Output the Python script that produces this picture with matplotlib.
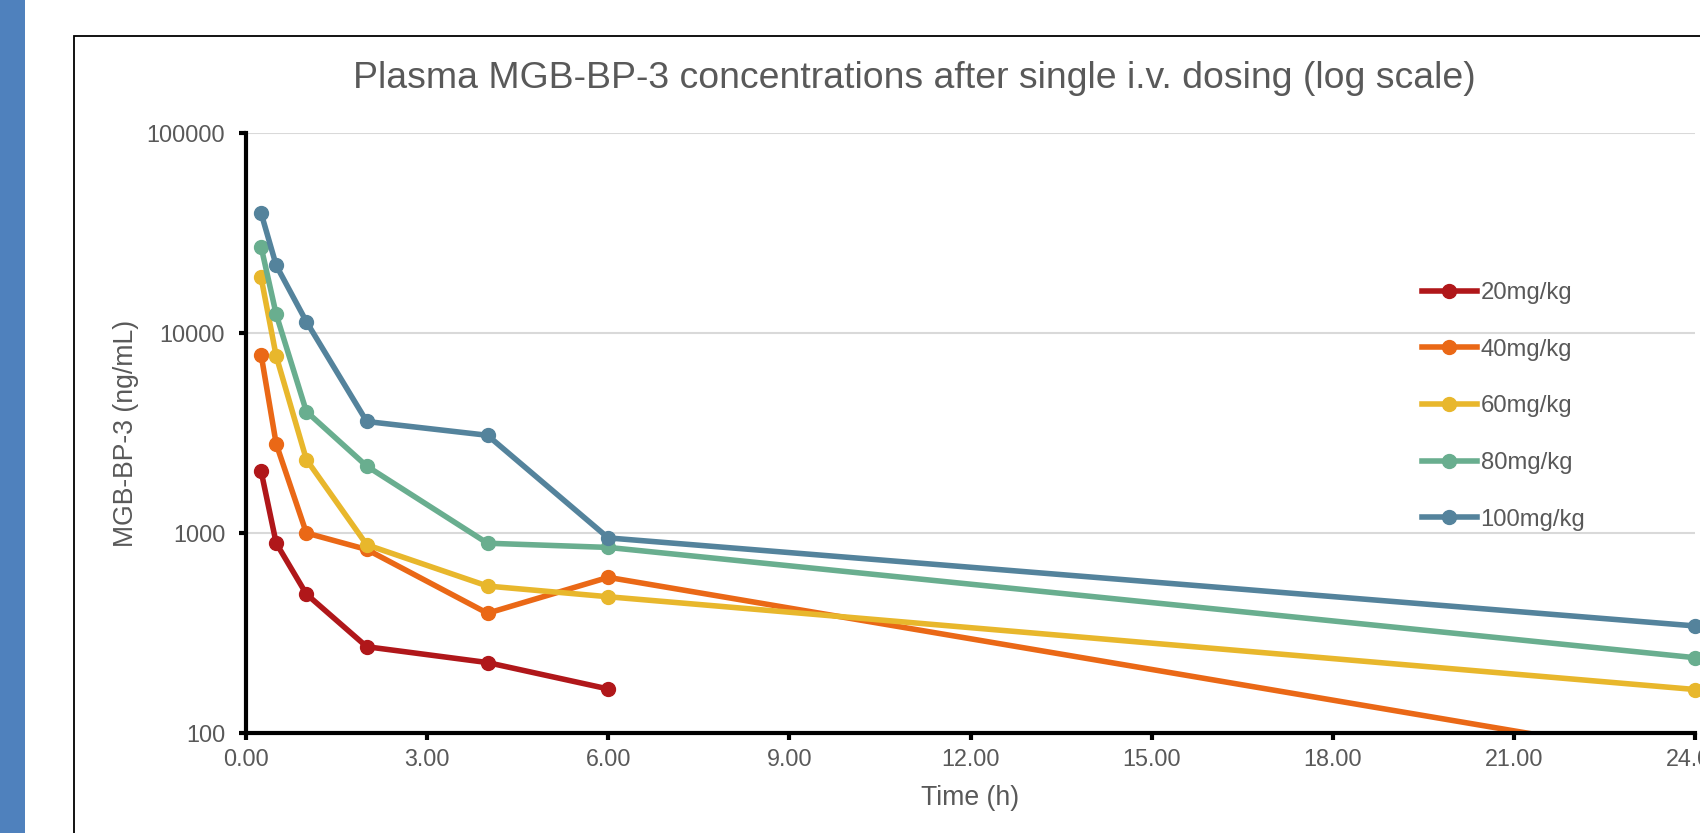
import matplotlib
matplotlib.use("Agg")
import matplotlib.pyplot as plt
from matplotlib.patches import Rectangle
from matplotlib.ticker import FixedLocator, FuncFormatter, NullLocator

plt.rcParams["font.family"] = ["Liberation Sans", "DejaVu Sans"]

# ---------- DATA ----------
time_h = [0.25, 0.5, 1, 2, 4, 6, 24]
dose_labels = ["20mg/kg", "40mg/kg", "60mg/kg", "80mg/kg", "100mg/kg"]
conc_20 = [2040, 890, 495, 270, 225, 166]          # no 24 h sample
conc_40 = [7800, 2790, 1000, 827, 397, 600, 72]
conc_60 = [18950, 7670, 2330, 873, 543, 480, 165]
conc_80 = [27000, 12400, 4050, 2160, 889, 847, 238]
conc_100 = [39800, 21800, 11400, 3610, 3080, 945, 343]
colors = ["#B0171A", "#EA6816", "#E8B72C", "#69AE8F", "#54839C"]

series = [conc_20, conc_40, conc_60, conc_80, conc_100]

W, H = 1700, 833
fig = plt.figure(figsize=(W / 100, H / 100), dpi=100)
TXT = "#595959"

# blue side strip and chart frame
fig.patches.append(Rectangle((0, 0), 25 / W, 1, transform=fig.transFigure,
                             facecolor="#4F81BD", edgecolor="none"))
fig.patches.append(Rectangle((74 / W, -0.1), 1.0, 1 - 36 / H + 0.1,
                             transform=fig.transFigure, facecolor="none",
                             edgecolor="black", linewidth=1.3))

ax = fig.add_axes([246 / W, 1 - 733 / H, (1695 - 246) / W, (733 - 133) / H])
ax.set_facecolor("none")

for vals, lab, col in zip(series, dose_labels, colors):
    t = time_h[:len(vals)]
    ax.plot(t, vals, color=col, lw=4, marker="o", ms=10, label=lab,
            clip_on=min(vals) < 100, zorder=3)

ax.set_yscale("log")
ax.set_ylim(100, 100000)
ax.set_xlim(0, 24)
ax.xaxis.set_major_locator(FixedLocator(range(0, 25, 3)))
ax.xaxis.set_major_formatter(FuncFormatter(lambda v, p: f"{v:.2f}"))
ax.yaxis.set_major_locator(FixedLocator([100, 1000, 10000, 100000]))
ax.yaxis.set_major_formatter(FuncFormatter(lambda v, p: f"{int(v)}"))
ax.yaxis.set_minor_locator(NullLocator())

ax.grid(axis="y", color="#D9D9D9", lw=1.5)
ax.set_axisbelow(True)
for s in ["top", "right"]:
    ax.spines[s].set_visible(False)
for s in ["left", "bottom"]:
    ax.spines[s].set_linewidth(3)
    ax.spines[s].set_zorder(4)
ax.tick_params(axis="both", which="major", length=5, width=3, color="black",
               labelcolor=TXT, labelsize=16.8)
ax.tick_params(axis="y", pad=10)
ax.tick_params(axis="x", pad=6)

ax.set_xlabel("Time (h)", color=TXT, fontsize=19.2, labelpad=10)
fig.text(126 / W, 1 - 433 / H, "MGB-BP-3 (ng/mL)", rotation=90, color=TXT,
         fontsize=19.2, ha="center", va="center")

fig.text(914 / W, 1 - 79 / H,
         "Plasma MGB-BP-3 concentrations after single i.v. dosing (log scale)",
         color=TXT, fontsize=26.9, ha="center", va="center")

leg = ax.legend(loc="upper left", bbox_to_anchor=(1422 / W, 1 - 282 / H),
                bbox_transform=fig.transFigure, frameon=False, fontsize=17.2,
                handlelength=2.3, handletextpad=0.15, labelspacing=1.45,
                borderpad=0, borderaxespad=0)
for txt in leg.get_texts():
    txt.set_color(TXT)

fig.savefig("out.png", dpi=100)
